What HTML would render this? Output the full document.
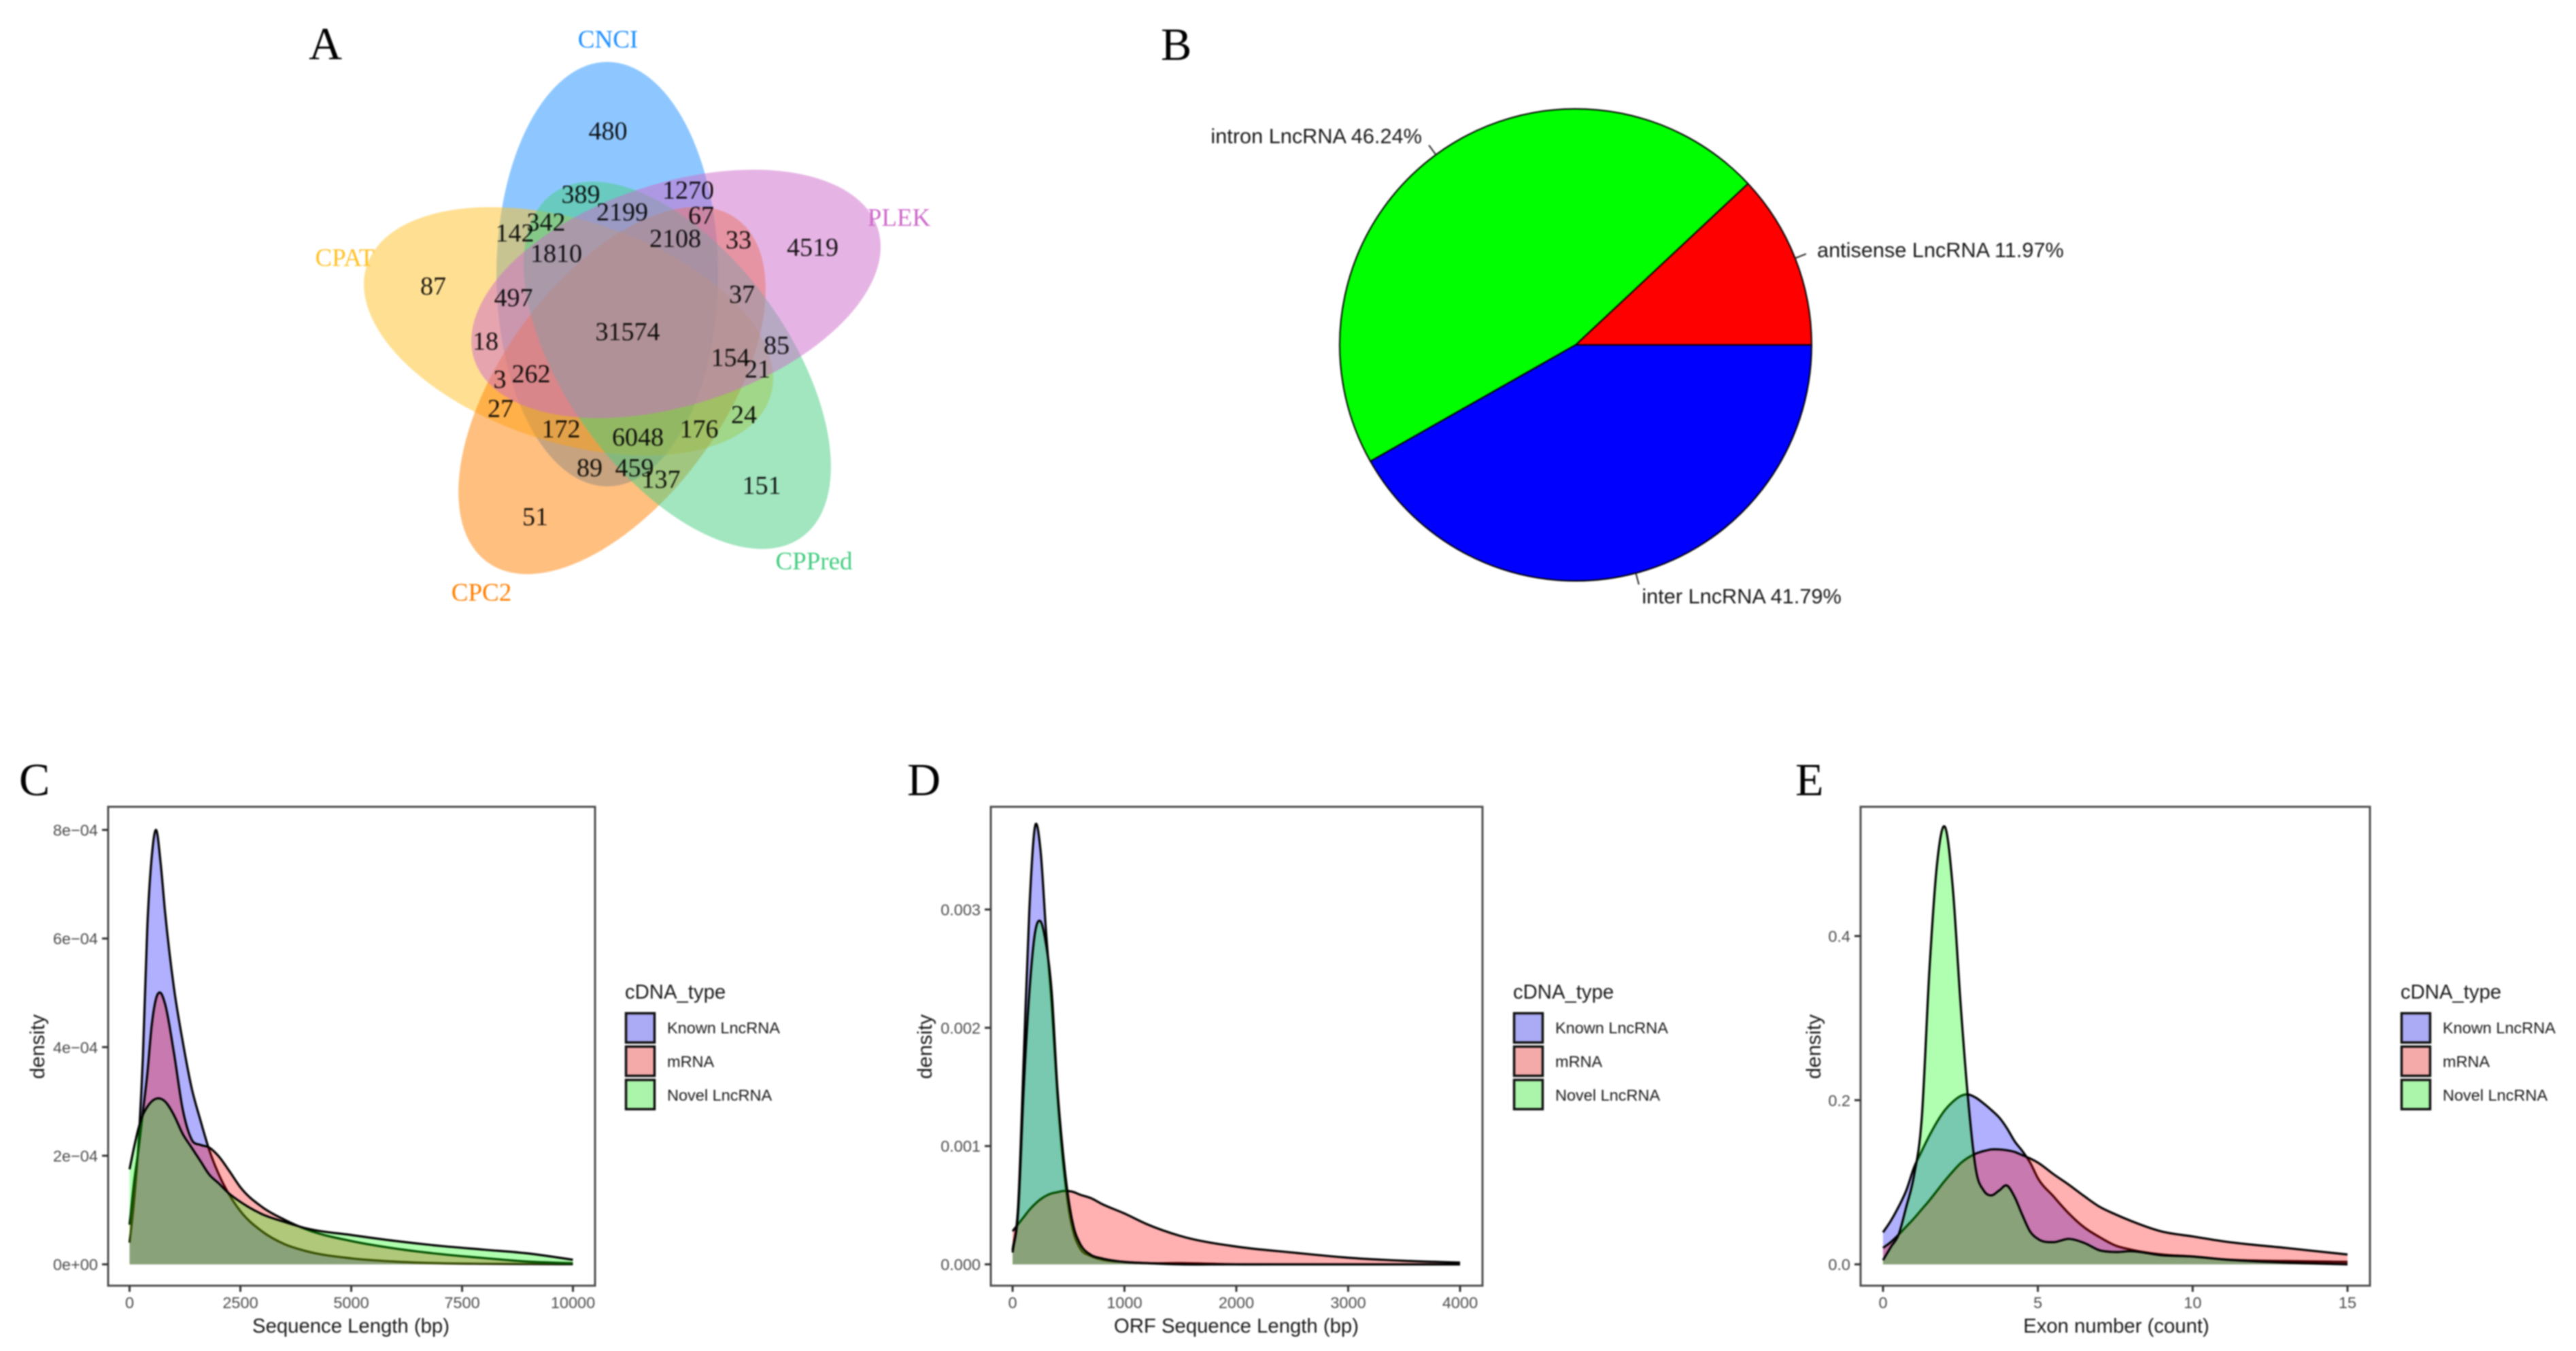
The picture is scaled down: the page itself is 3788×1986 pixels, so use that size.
<!DOCTYPE html>
<html lang="en">
<head>
<meta charset="utf-8">
<title>LncRNA identification figure</title>
<style>
html,body{margin:0;padding:0;background:#fff;overflow:hidden;}
svg{display:block;filter:blur(1px);}
text{font-family:"Liberation Sans",Arial,sans-serif;}
.serif{font-family:"Liberation Serif","Times New Roman",serif;}
</style>
</head>
<body>
<svg id="fig" xmlns="http://www.w3.org/2000/svg" width="3788" height="1986" viewBox="0 0 3788 1986">
<rect width="3788" height="1986" fill="#fff"/>

<text class="serif" x="454" y="87" font-size="68" fill="#000">A</text>
<text class="serif" x="1707" y="88" font-size="68" fill="#000">B</text>
<text class="serif" x="28" y="1169" font-size="68" fill="#000">C</text>
<text class="serif" x="1334" y="1169" font-size="68" fill="#000">D</text>
<text class="serif" x="2640" y="1169" font-size="68" fill="#000">E</text>

<g id="venn">
<ellipse cx="893" cy="403" rx="163" ry="312" fill="#1E90FF" fill-opacity="0.5"/>
<ellipse cx="836" cy="487" rx="163" ry="312" transform="rotate(-72 836 487)" fill="#FFC125" fill-opacity="0.5"/>
<ellipse cx="900" cy="574" rx="163" ry="312" transform="rotate(36 900 574)" fill="#FF7F00" fill-opacity="0.5"/>
<ellipse cx="996" cy="537" rx="163" ry="312" transform="rotate(-36 996 537)" fill="#43CD80" fill-opacity="0.5"/>
<ellipse cx="994" cy="432" rx="163" ry="312" transform="rotate(72 994 432)" fill="#CD69C9" fill-opacity="0.5"/>
<g class="venn-names" font-size="37" text-anchor="middle">
<text class="serif" x="894" y="70" fill="#1E90FF">CNCI</text>
<text class="serif" x="507" y="391" fill="#FFC125">CPAT</text>
<text class="serif" x="1322" y="332" fill="#CD69C9">PLEK</text>
<text class="serif" x="1197" y="837" fill="#43CD80">CPPred</text>
<text class="serif" x="708" y="883" fill="#FF7F00">CPC2</text>
</g>
<g font-size="38" text-anchor="middle" fill="#000" fill-opacity="0.9">
<text class="serif" x="894" y="205">480</text>
<text class="serif" x="854" y="298">389</text>
<text class="serif" x="1012" y="292">1270</text>
<text class="serif" x="915" y="324">2199</text>
<text class="serif" x="803" y="339">342</text>
<text class="serif" x="757" y="355">142</text>
<text class="serif" x="1031" y="329">67</text>
<text class="serif" x="993" y="363">2108</text>
<text class="serif" x="1086" y="365">33</text>
<text class="serif" x="1195" y="376">4519</text>
<text class="serif" x="818" y="385">1810</text>
<text class="serif" x="637" y="433">87</text>
<text class="serif" x="755" y="450">497</text>
<text class="serif" x="1091" y="445">37</text>
<text class="serif" x="923" y="500">31574</text>
<text class="serif" x="714" y="514">18</text>
<text class="serif" x="1142" y="520">85</text>
<text class="serif" x="1074" y="538">154</text>
<text class="serif" x="1114" y="555">21</text>
<text class="serif" x="781" y="562">262</text>
<text class="serif" x="735" y="570">3</text>
<text class="serif" x="736" y="613">27</text>
<text class="serif" x="1094" y="622">24</text>
<text class="serif" x="825" y="643">172</text>
<text class="serif" x="1028" y="643">176</text>
<text class="serif" x="938" y="655">6048</text>
<text class="serif" x="867" y="700">89</text>
<text class="serif" x="933" y="700">459</text>
<text class="serif" x="972" y="717">137</text>
<text class="serif" x="1120" y="726">151</text>
<text class="serif" x="787" y="772">51</text>
</g>
</g>

<g id="pie"></g>
<g id="chart-c"></g>
<g id="chart-d"></g>
<g id="chart-e"></g>
</svg>

<script>
// ---- Pie data ----
const pieCategories = ["antisense LncRNA", "intron LncRNA", "inter LncRNA"];
const pieShares = [11.97, 46.24, 41.79];
const pieColors = ["#FF0000", "#00FF00", "#0000FF"];

// ---- Shared density series names ----
const seriesNames = ["Known LncRNA", "mRNA", "Novel LncRNA"];

// ---- Chart C: sequence length ----
const cX = [0,100,200,300,400,500,600,700,800,1000,1200,1400,1600,1800,2000,2250,2500,3000,3500,4000,5000,6000,7000,8000,9000,10000];
const cKnown = [0.40e-4,1.15e-4,2.2e-4,3.8e-4,6.2e-4,7.5e-4,8.0e-4,7.4e-4,6.5e-4,5.1e-4,4.1e-4,3.25e-4,2.65e-4,2.1e-4,1.68e-4,1.28e-4,0.98e-4,0.6e-4,0.37e-4,0.24e-4,0.11e-4,0.05e-4,0.02e-4,0.01e-4,0.005e-4,0.002e-4];
const cMrna = [0.73e-4,1.5e-4,2.1e-4,2.8e-4,3.5e-4,4.4e-4,4.9e-4,5.0e-4,4.8e-4,3.9e-4,2.85e-4,2.3e-4,2.2e-4,2.15e-4,2.0e-4,1.72e-4,1.42e-4,1.05e-4,0.82e-4,0.64e-4,0.43e-4,0.29e-4,0.19e-4,0.115e-4,0.05e-4,0.02e-4];
const cNovel = [1.75e-4,2.15e-4,2.5e-4,2.75e-4,2.9e-4,3.0e-4,3.05e-4,3.05e-4,3.0e-4,2.75e-4,2.4e-4,2.15e-4,1.9e-4,1.65e-4,1.5e-4,1.3e-4,1.15e-4,0.92e-4,0.78e-4,0.66e-4,0.54e-4,0.43e-4,0.34e-4,0.27e-4,0.2e-4,0.085e-4];
const cXTicks = [0,2500,5000,7500,10000];
const cXTickLabels = ["0","2500","5000","7500","10000"];
const cYTicks = [0,2e-4,4e-4,6e-4,8e-4];
const cYTickLabels = ["0e+00","2e\u221204","4e\u221204","6e\u221204","8e\u221204"];

// ---- Chart D: ORF length ----
const dX = [0,50,100,150,200,250,300,350,400,450,500,550,600,700,800,1000,1200,1500,2000,2500,3000,3500,4000];
const dKnown = [0.00012,0.0005,0.00175,0.0030,0.0037,0.0035,0.0028,0.0022,0.00145,0.00088,0.00048,0.00025,0.00014,0.00007,0.00004,0.00002,0.00001,0.00001,0,0,0,0,0];
const dMrna = [0.00028,0.00034,0.00040,0.00046,0.00051,0.00055,0.00058,0.0006,0.00061,0.00062,0.00062,0.00061,0.00059,0.00056,0.00051,0.00043,0.00034,0.00024,0.00015,0.0001,0.000056,0.00003,0.000015];
const dNovel = [0.0001,0.00045,0.0015,0.0023,0.0028,0.0029,0.0027,0.0023,0.0015,0.00095,0.00055,0.0003,0.00018,0.00008,0.00005,0.00002,0.00001,0,0,0,0,0,0];
const dXTicks = [0,1000,2000,3000,4000];
const dXTickLabels = ["0","1000","2000","3000","4000"];
const dYTicks = [0,0.001,0.002,0.003];
const dYTickLabels = ["0.000","0.001","0.002","0.003"];

// ---- Chart E: exon number ----
const eX = [0,0.25,0.5,0.75,1,1.25,1.5,1.75,2,2.25,2.5,2.75,3,3.25,3.5,3.75,4,4.25,4.5,4.75,5,5.5,6,6.5,7,7.5,8,9,10,11,13,15];
const eKnown = [0.039,0.053,0.07,0.09,0.118,0.138,0.157,0.174,0.188,0.198,0.205,0.207,0.203,0.196,0.188,0.179,0.166,0.15,0.138,0.124,0.105,0.083,0.062,0.045,0.033,0.023,0.018,0.012,0.0095,0.006,0.004,0.003];
const eMrna = [0.02,0.027,0.036,0.046,0.056,0.067,0.078,0.09,0.102,0.113,0.123,0.13,0.135,0.138,0.14,0.14,0.139,0.137,0.133,0.129,0.124,0.11,0.097,0.083,0.07,0.061,0.053,0.04,0.034,0.028,0.02,0.012];
const eNovel = [0.005,0.021,0.036,0.07,0.108,0.178,0.36,0.49,0.533,0.46,0.32,0.2,0.115,0.09,0.084,0.09,0.096,0.082,0.06,0.04,0.031,0.027,0.031,0.026,0.017,0.015,0.016,0.011,0.0095,0.006,0.002,0];
const eXTicks = [0,5,10,15];
const eXTickLabels = ["0","5","10","15"];
const eYTicks = [0,0.2,0.4];
const eYTickLabels = ["0.0","0.2","0.4"];

const NS = "http://www.w3.org/2000/svg";
function svgEl(parent, tag, attrs, txt) {
  const el = document.createElementNS(NS, tag);
  for (const k in attrs) el.setAttribute(k, attrs[k]);
  if (txt !== undefined) el.textContent = txt;
  parent.appendChild(el);
  return el;
}

// ---- Pie ----
function drawPie() {
  const g = document.getElementById("pie");
  const cx = 2317, cy = 507, r = 347;
  const total = pieShares.reduce((a, b) => a + b, 0);
  let start = 0;
  pieShares.forEach((share, i) => {
    const sweep = share / total * 2 * Math.PI;
    const end = start + sweep;
    const large = sweep > Math.PI ? 1 : 0;
    const d = "M" + cx + "," + cy +
      "L" + (cx + r * Math.cos(start)) + "," + (cy - r * Math.sin(start)) +
      "A" + r + "," + r + " 0 " + large + " 0 " + (cx + r * Math.cos(end)) + "," + (cy - r * Math.sin(end)) + "Z";
    const slice = svgEl(g, "path", {d: d, fill: pieColors[i], stroke: "#000", "stroke-width": 2});
    
    
    const mid = start + sweep / 2;
    const c = Math.cos(mid), s = Math.sin(mid);
    const tick = svgEl(g, "line", {x1: cx + r * c, y1: cy - r * s, x2: cx + 1.05 * r * c, y2: cy - 1.05 * r * s, stroke: "#222", "stroke-width": 2});
    
    
    const label = svgEl(g, "text", {
      x: cx + 1.1 * r * c, y: cy - 1.1 * r * s + 11,
      "font-size": 30.7, fill: "#1a1a1a",
      "text-anchor": c >= 0 ? "start" : "end"
    }, pieCategories[i] + " " + share.toFixed(2) + "%");
    
    
    start = end;
  });
}

// ---- Smooth path through points (cubic with weighted tangents) ----
function smoothSegments(pts) {
  const n = pts.length, sl = [], m = [];
  for (let i = 0; i < n - 1; i++) sl.push((pts[i + 1][1] - pts[i][1]) / (pts[i + 1][0] - pts[i][0]));
  m[0] = sl[0];
  m[n - 1] = sl[n - 2];
  for (let i = 1; i < n - 1; i++) {
    const h0 = pts[i][0] - pts[i - 1][0], h1 = pts[i + 1][0] - pts[i][0];
    m[i] = (sl[i - 1] * h1 + sl[i] * h0) / (h0 + h1);
  }
  let d = "";
  for (let i = 0; i < n - 1; i++) {
    const h = (pts[i + 1][0] - pts[i][0]) / 3;
    d += "C" + (pts[i][0] + h) + "," + (pts[i][1] + m[i] * h) + " " +
         (pts[i + 1][0] - h) + "," + (pts[i + 1][1] - m[i + 1] * h) + " " +
         pts[i + 1][0] + "," + pts[i + 1][1];
  }
  return d;
}

// ---- Density panel ----
function drawDensity(id, o) {
  const g = document.getElementById(id);
  const xMax = o.xTicks[o.xTicks.length - 1];
  const xScale = v => o.x0 + (v / xMax) * (o.x1 - o.x0);
  const yScale = v => o.y0 + (v / o.yRefVal) * (o.yRef - o.y0);
  const fills = ["#0000FF", "#FF0000", "#00FF00"];
  const keyFills = ["#AAAAF5", "#F5AAAA", "#AAF5AA"];

  o.series.forEach((vals, i) => {
    const pts = vals.map((v, j) => [xScale(o.xs[j]), yScale(v)]);
    const line = "M" + pts[0][0] + "," + pts[0][1] + smoothSegments(pts);
    const area = svgEl(g, "path", {
      d: line + "L" + pts[pts.length - 1][0] + "," + o.y0 + "L" + pts[0][0] + "," + o.y0 + "Z",
      fill: fills[i], "fill-opacity": 0.31, stroke: "none"
    });
    
    
    const curve = svgEl(g, "path", {d: line, fill: "none", stroke: "#000", "stroke-width": 3.2, "stroke-linejoin": "round"});
    
    
  });

  const frame = svgEl(g, "rect", {x: o.left, y: 1186, width: o.right - o.left, height: 704, fill: "none", stroke: "#4d4d4d", "stroke-width": 3});
  
  

  o.xTicks.forEach((v, i) => {
    const px = xScale(v);
    const t = svgEl(g, "line", {x1: px, x2: px, y1: 1890, y2: 1899, stroke: "#333", "stroke-width": 3});
    
    
    const l = svgEl(g, "text", {x: px, y: 1923, "font-size": 23.5, fill: "#4d4d4d", "text-anchor": "middle"}, o.xTickLabels[i]);
    
    
  });
  o.yTicks.forEach((v, i) => {
    const py = yScale(v);
    const t = svgEl(g, "line", {x1: o.left - 9, x2: o.left, y1: py, y2: py, stroke: "#333", "stroke-width": 3});
    
    
    const l = svgEl(g, "text", {x: o.left - 15, y: py + 8.5, "font-size": 23.5, fill: "#4d4d4d", "text-anchor": "end"}, o.yTickLabels[i]);
    
    
  });

  const xt = svgEl(g, "text", {x: o.xTitleX, y: 1959, "font-size": 29.3, fill: "#1a1a1a", "text-anchor": "middle"}, o.xTitle);
  
  
  const yt = svgEl(g, "text", {x: 0, y: 0, "font-size": 30, fill: "#1a1a1a", "text-anchor": "middle",
    transform: "translate(" + o.yTitleX + ",1538.6) rotate(-90)"}, "density");
  
  

  const lt = svgEl(g, "text", {x: o.legendX, y: 1468, "font-size": 29.3, fill: "#1a1a1a"}, "cDNA_type");
  
  
  seriesNames.forEach((name, i) => {
    const ky = 1489.5 + i * 49;
    const key = svgEl(g, "rect", {x: o.legendX + 1.5, y: ky, width: 42, height: 43, fill: keyFills[i], stroke: "#111", "stroke-width": 3.5});
    
    
    const lab = svgEl(g, "text", {x: o.legendX + 62, y: 1519 + i * 49.5, "font-size": 23.5, fill: "#1a1a1a"}, name);
    
    
  });
}

drawPie();
drawDensity("chart-c", {
  xs: cX, series: [cKnown, cMrna, cNovel],
  xTicks: cXTicks, xTickLabels: cXTickLabels, yTicks: cYTicks, yTickLabels: cYTickLabels,
  x0: 190.5, x1: 842.5, y0: 1858.6, yRef: 1220, yRefVal: 8e-4,
  left: 159, right: 875, xTitle: "Sequence Length (bp)", xTitleX: 516, yTitleX: 65, legendX: 919
});
drawDensity("chart-d", {
  xs: dX, series: [dKnown, dMrna, dNovel],
  xTicks: dXTicks, xTickLabels: dXTickLabels, yTicks: dYTicks, yTickLabels: dYTickLabels,
  x0: 1489, x1: 2147, y0: 1858.6, yRef: 1337, yRefVal: 0.003,
  left: 1457, right: 2180, xTitle: "ORF Sequence Length (bp)", xTitleX: 1818, yTitleX: 1370, legendX: 2225
});
drawDensity("chart-e", {
  xs: eX, series: [eKnown, eMrna, eNovel],
  xTicks: eXTicks, xTickLabels: eXTickLabels, yTicks: eYTicks, yTickLabels: eYTickLabels,
  x0: 2769, x1: 3452, y0: 1858.6, yRef: 1376, yRefVal: 0.4,
  left: 2736, right: 3485, xTitle: "Exon number (count)", xTitleX: 3112, yTitleX: 2677, legendX: 3530
});
</script>
</body>
</html>
